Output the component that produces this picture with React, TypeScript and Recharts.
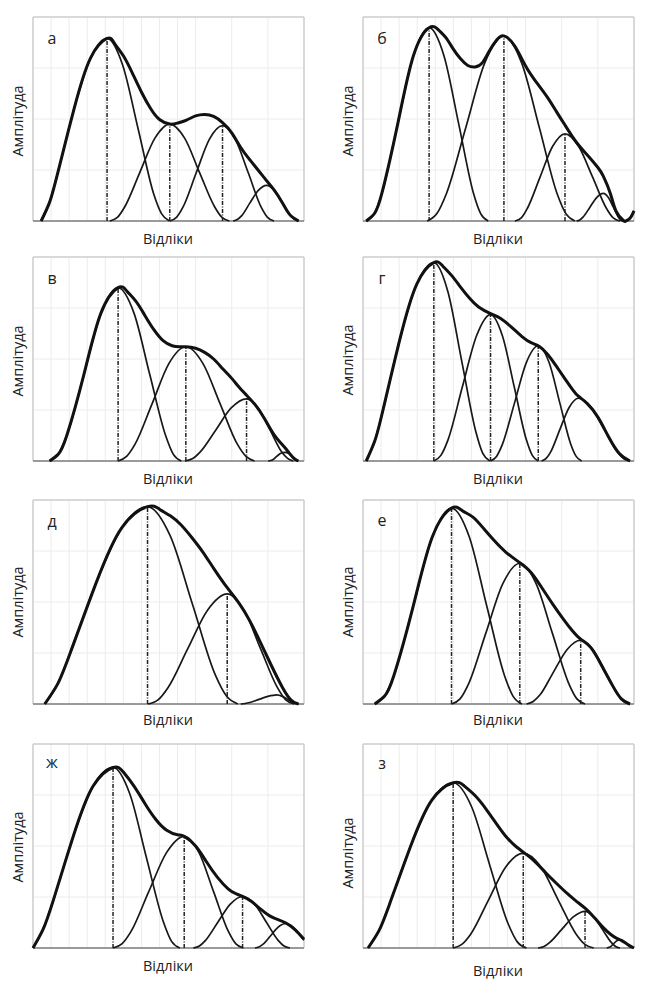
import { LineChart, Line, XAxis, YAxis, CartesianGrid, ReferenceLine } from "recharts";

type P = [number, number];

const xTicks = [0, 1, 2, 3, 4, 5, 6, 7, 8, 9, 10, 11, 12, 13, 14, 15];
const yTicks = [0, 1, 2, 3, 4];
const xLabel = "Відліки";
const yLabel = "Амплітуда";

// а
const aC1: P[] = [[0.45, 0], [0.91, 0.36], [1.36, 0.93], [2.28, 2.21], [3.19, 3.2], [4.1, 3.58], [4.96, 3.06], [5.83, 1.79], [6.69, 0.52], [7.12, 0.14], [7.55, 0]];
const aC2: P[] = [[4.25, 0], [4.67, 0.07], [5.08, 0.28], [5.91, 0.95], [6.74, 1.62], [7.57, 1.9], [8.4, 1.62], [9.22, 0.95], [10.05, 0.28], [10.46, 0.07], [10.87, 0]];
const aC3: P[] = [[7.57, 0], [7.94, 0.07], [8.3, 0.27], [9.03, 0.94], [9.76, 1.6], [10.49, 1.87], [11.2, 1.6], [11.92, 0.94], [12.63, 0.27], [12.98, 0.07], [13.34, 0]];
const aC4: P[] = [[11.08, 0], [11.31, 0.03], [11.54, 0.1], [12.0, 0.35], [12.47, 0.6], [12.93, 0.7], [13.37, 0.6], [13.82, 0.35], [14.26, 0.1], [14.48, 0.03], [14.7, 0]];
const aEnv: P[] = [[0.45, 0], [0.91, 0.36], [1.36, 0.93], [2.28, 2.21], [3.19, 3.2], [4.1, 3.58], [4.5, 3.49], [5.0, 3.24], [5.5, 2.9], [6.0, 2.53], [6.5, 2.21], [7.0, 1.99], [7.57, 1.9], [8.0, 1.92], [8.5, 1.98], [9.0, 2.06], [9.5, 2.09], [10.0, 2.05], [10.49, 1.93], [11.0, 1.73], [11.5, 1.44], [12.0, 1.2], [12.5, 0.98], [12.93, 0.79], [13.34, 0.61], [13.8, 0.36], [14.2, 0.13], [14.7, 0]];
const aPeaks: P[] = [[4.1, 3.58], [7.57, 1.9], [10.49, 1.87]];

// б
const bC1: P[] = [[0.18, 0], [0.62, 0.14], [1.05, 0.55], [1.92, 1.9], [2.79, 3.24], [3.66, 3.79], [4.48, 3.24], [5.3, 1.9], [6.11, 0.55], [6.52, 0.14], [6.93, 0]];
const bC2: P[] = [[3.55, 0], [4.08, 0.14], [4.61, 0.53], [5.68, 1.82], [6.74, 3.1], [7.8, 3.63], [8.78, 3.1], [9.77, 1.82], [10.75, 0.53], [11.24, 0.14], [11.73, 0]];
const bC3: P[] = [[8.41, 0], [8.76, 0.06], [9.1, 0.25], [9.8, 0.86], [10.49, 1.46], [11.18, 1.71], [11.94, 1.46], [12.71, 0.86], [13.47, 0.25], [13.85, 0.06], [14.23, 0]];
const bC4: P[] = [[11.82, 0], [12.0, 0.02], [12.19, 0.08], [12.56, 0.27], [12.93, 0.46], [13.3, 0.54], [13.58, 0.46], [13.86, 0.27], [14.13, 0.08], [14.27, 0.02], [14.41, 0]];
const bC5: P[] = [[14.5, 0], [14.65, 0.02], [14.8, 0.07], [15, 0.2]];
const bEnv: P[] = [[0.18, 0], [0.62, 0.14], [1.05, 0.55], [1.92, 1.9], [2.79, 3.24], [3.66, 3.79], [4.2, 3.74], [4.6, 3.59], [5.0, 3.37], [5.4, 3.18], [5.8, 3.05], [6.2, 3.02], [6.6, 3.1], [7.0, 3.34], [7.4, 3.55], [7.8, 3.63], [8.4, 3.43], [9.0, 3.04], [9.6, 2.72], [10.2, 2.43], [10.7, 2.15], [11.18, 1.88], [11.6, 1.65], [12.0, 1.46], [12.5, 1.26], [13.0, 1.05], [13.3, 0.88], [13.7, 0.53], [14.0, 0.2], [14.41, 0.01], [14.55, 0], [14.7, 0.03], [14.85, 0.09], [15, 0.2]];
const bPeaks: P[] = [[3.66, 3.79], [7.8, 3.63], [11.18, 1.71]];

// в
const vC1: P[] = [[0.92, 0], [1.39, 0.13], [1.87, 0.5], [2.82, 1.7], [3.76, 2.9], [4.71, 3.4], [5.59, 2.9], [6.46, 1.7], [7.34, 0.5], [7.77, 0.13], [8.21, 0]];
const vC2: P[] = [[4.71, 0], [5.18, 0.09], [5.65, 0.33], [6.59, 1.12], [7.52, 1.91], [8.46, 2.24], [9.41, 1.91], [10.36, 1.12], [11.31, 0.33], [11.79, 0.09], [12.26, 0]];
const vC3: P[] = [[8.41, 0], [8.84, 0.05], [9.26, 0.18], [10.12, 0.61], [10.97, 1.04], [11.82, 1.22], [12.47, 1.04], [13.12, 0.61], [13.76, 0.18], [14.09, 0.05], [14.41, 0]];
const vC4: P[] = [[13.02, 0], [13.14, 0.01], [13.25, 0.02], [13.49, 0.09], [13.72, 0.15], [13.95, 0.17], [14.14, 0.15], [14.32, 0.09], [14.51, 0.02], [14.6, 0.01], [14.69, 0]];
const vEnv: P[] = [[0.92, 0], [1.39, 0.13], [1.87, 0.5], [2.82, 1.7], [3.76, 2.9], [4.71, 3.4], [5.2, 3.33], [5.7, 3.13], [6.2, 2.85], [6.7, 2.57], [7.2, 2.36], [7.7, 2.26], [8.1, 2.24], [8.46, 2.24], [9.0, 2.21], [9.5, 2.13], [10.0, 2.0], [10.5, 1.81], [11.0, 1.62], [11.4, 1.45], [11.82, 1.29], [12.3, 1.1], [12.8, 0.84], [13.3, 0.54], [13.7, 0.36], [13.95, 0.26], [14.2, 0.15], [14.45, 0.05], [14.69, 0]];
const vPeaks: P[] = [[4.71, 3.4], [8.46, 2.24], [11.82, 1.22]];

// г
const gC1: P[] = [[0.18, 0], [0.65, 0.39], [1.12, 1.02], [2.05, 2.4], [2.99, 3.48], [3.92, 3.89], [4.7, 3.32], [5.47, 1.95], [6.25, 0.57], [6.63, 0.15], [7.02, 0]];
const gC2: P[] = [[3.92, 0], [4.31, 0.11], [4.71, 0.42], [5.49, 1.44], [6.28, 2.45], [7.06, 2.87], [7.72, 2.45], [8.38, 1.44], [9.04, 0.42], [9.37, 0.11], [9.7, 0]];
const gC3: P[] = [[7.06, 0], [7.39, 0.09], [7.72, 0.33], [8.38, 1.13], [9.04, 1.93], [9.7, 2.26], [10.3, 1.93], [10.9, 1.13], [11.5, 0.33], [11.8, 0.09], [12.1, 0]];
const gC4: P[] = [[9.88, 0], [10.14, 0.05], [10.39, 0.18], [10.9, 0.62], [11.41, 1.05], [11.92, 1.23], [12.64, 1.05], [13.35, 0.62], [14.07, 0.18], [14.42, 0.05], [14.78, 0]];
const gEnv: P[] = [[0.18, 0], [0.65, 0.39], [1.12, 1.02], [2.05, 2.4], [2.99, 3.48], [3.92, 3.89], [4.4, 3.83], [4.9, 3.64], [5.4, 3.41], [5.9, 3.19], [6.4, 3.02], [7.06, 2.89], [7.6, 2.8], [8.2, 2.63], [8.8, 2.44], [9.3, 2.32], [9.7, 2.26], [10.2, 2.1], [10.7, 1.86], [11.2, 1.6], [11.6, 1.4], [11.92, 1.27], [12.4, 1.13], [13.0, 0.86], [13.6, 0.47], [14.2, 0.14], [14.78, 0]];
const gPeaks: P[] = [[3.92, 3.89], [7.06, 2.87], [9.7, 2.26]];

// д
const dC1: P[] = [[0.65, 0], [1.36, 0.39], [2.07, 1.01], [3.5, 2.38], [4.92, 3.46], [6.34, 3.87], [7.59, 3.3], [8.84, 1.94], [10.09, 0.57], [10.72, 0.15], [11.34, 0]];
const dC2: P[] = [[6.37, 0], [6.92, 0.08], [7.47, 0.32], [8.56, 1.08], [9.66, 1.84], [10.75, 2.16], [11.68, 1.84], [12.6, 1.08], [13.53, 0.32], [13.99, 0.08], [14.45, 0]];
const dC3: P[] = [[11.5, 0], [11.75, 0.01], [12.0, 0.03], [12.5, 0.09], [13.0, 0.15], [13.5, 0.18], [13.8, 0.15], [14.1, 0.09], [14.4, 0.03], [14.55, 0.01], [14.7, 0]];
const dEnv: P[] = [[0.65, 0], [1.36, 0.39], [2.07, 1.01], [3.5, 2.38], [4.92, 3.46], [6.34, 3.87], [7.0, 3.82], [7.6, 3.69], [8.2, 3.51], [8.8, 3.26], [9.4, 2.98], [10.0, 2.66], [10.75, 2.28], [11.4, 1.98], [12.0, 1.63], [12.6, 1.2], [13.2, 0.75], [13.8, 0.33], [14.3, 0.07], [14.7, 0]];
const dPeaks: P[] = [[6.34, 3.87], [10.75, 2.16]];

// е
const eC1: P[] = [[0.65, 0], [1.18, 0.15], [1.71, 0.56], [2.78, 1.92], [3.84, 3.28], [4.9, 3.84], [5.88, 3.28], [6.85, 1.92], [7.83, 0.56], [8.31, 0.15], [8.8, 0]];
const eC2: P[] = [[4.9, 0], [5.37, 0.1], [5.85, 0.4], [6.79, 1.38], [7.74, 2.36], [8.68, 2.76], [9.58, 2.36], [10.49, 1.38], [11.39, 0.4], [11.84, 0.1], [12.29, 0]];
const eC3: P[] = [[9.05, 0], [9.42, 0.05], [9.8, 0.18], [10.55, 0.63], [11.3, 1.07], [12.05, 1.25], [12.73, 1.07], [13.42, 0.63], [14.1, 0.18], [14.44, 0.05], [14.78, 0]];
const eEnv: P[] = [[0.65, 0], [1.18, 0.15], [1.71, 0.56], [2.78, 1.92], [3.84, 3.28], [4.9, 3.84], [5.5, 3.79], [6.1, 3.66], [6.7, 3.43], [7.3, 3.19], [7.9, 2.98], [8.68, 2.77], [9.3, 2.58], [9.9, 2.28], [10.5, 1.96], [11.1, 1.66], [11.6, 1.43], [12.05, 1.27], [12.6, 1.11], [13.2, 0.76], [13.8, 0.37], [14.3, 0.1], [14.78, 0]];
const ePeaks: P[] = [[4.9, 3.84], [8.68, 2.76], [12.05, 1.25]];

// ж
const zhC1: P[] = [[0, 0], [0.55, 0.36], [1.11, 0.92], [2.22, 2.18], [3.32, 3.17], [4.43, 3.54], [5.36, 3.02], [6.28, 1.77], [7.21, 0.52], [7.67, 0.13], [8.13, 0]];
const zhC2: P[] = [[4.43, 0], [4.92, 0.08], [5.42, 0.32], [6.4, 1.1], [7.39, 1.87], [8.37, 2.19], [9.19, 1.87], [10.0, 1.1], [10.82, 0.32], [11.23, 0.08], [11.64, 0]];
const zhC3: P[] = [[8.87, 0], [9.21, 0.04], [9.55, 0.15], [10.24, 0.51], [10.92, 0.86], [11.6, 1.01], [12.26, 0.86], [12.91, 0.51], [13.57, 0.15], [13.89, 0.04], [14.22, 0]];
const zhC4: P[] = [[12.29, 0], [12.5, 0.02], [12.72, 0.07], [13.15, 0.24], [13.57, 0.41], [14.0, 0.48], [14.4, 0.41], [14.8, 0.24], [15.0, 0.15]];
const zhEnv: P[] = [[0, 0], [0.55, 0.36], [1.11, 0.92], [2.22, 2.18], [3.32, 3.17], [4.43, 3.54], [5.0, 3.45], [5.6, 3.17], [6.2, 2.83], [6.8, 2.52], [7.4, 2.31], [8.0, 2.22], [8.37, 2.19], [9.0, 2.0], [9.6, 1.69], [10.2, 1.39], [10.8, 1.16], [11.2, 1.07], [11.6, 1.01], [12.1, 0.91], [12.6, 0.76], [13.1, 0.63], [13.6, 0.55], [14.0, 0.49], [14.5, 0.36], [15.0, 0.17]];
const zhPeaks: P[] = [[4.43, 3.54], [8.37, 2.19], [11.6, 1.01]];

// з
const zC1: P[] = [[0.28, 0], [0.87, 0.33], [1.46, 0.85], [2.64, 2.0], [3.81, 2.9], [4.99, 3.24], [6.01, 2.77], [7.02, 1.62], [8.04, 0.47], [8.54, 0.12], [9.05, 0]];
const zC2: P[] = [[4.99, 0], [5.47, 0.07], [5.96, 0.27], [6.93, 0.93], [7.9, 1.59], [8.87, 1.86], [9.85, 1.59], [10.82, 0.93], [11.8, 0.27], [12.28, 0.07], [12.77, 0]];
const zC3: P[] = [[9.69, 0], [10.02, 0.03], [10.34, 0.11], [10.99, 0.36], [11.64, 0.61], [12.29, 0.72], [12.77, 0.61], [13.26, 0.36], [13.74, 0.11], [13.98, 0.03], [14.22, 0]];
const zC4: P[] = [[13.49, 0], [13.58, 0.01], [13.67, 0.02], [13.86, 0.08], [14.04, 0.14], [14.22, 0.16], [14.41, 0.14], [14.59, 0.08], [14.78, 0.02], [14.87, 0.01], [14.96, 0]];
const zEnv: P[] = [[0.28, 0], [0.87, 0.33], [1.46, 0.85], [2.64, 2.0], [3.81, 2.9], [4.99, 3.24], [5.6, 3.18], [6.2, 2.99], [6.8, 2.73], [7.4, 2.43], [8.0, 2.15], [8.5, 1.98], [8.87, 1.88], [9.5, 1.7], [10.1, 1.48], [10.7, 1.27], [11.3, 1.07], [11.8, 0.92], [12.29, 0.78], [12.8, 0.6], [13.3, 0.4], [13.7, 0.27], [14.0, 0.2], [14.3, 0.15], [14.65, 0.07], [15.0, 0]];
const zPeaks: P[] = [[4.99, 3.24], [8.87, 1.86], [12.29, 0.72]];

const rows = (pts: P[]) => pts.map(([x, y]) => ({ x, y }));

const FONT = '"Open Sans", "Liberation Sans", sans-serif';

interface PanelProps {
  letter: string;
  parts: P[][];
  env: P[];
  peaks: P[];
  left: number;
  top: number;
  xLabelDy: number;
  yLabelDy: number;
  letterDy: number;
}

function Panel({ letter, parts, env, peaks, left, top, xLabelDy, yLabelDy, letterDy }: PanelProps) {
  return (
    <>
      <div style={{ position: "absolute", left: left - 2, top: top - 2 }}>
        <LineChart width={275} height={208} margin={{ top: 2, right: 2, bottom: 2, left: 2 }}>
          <CartesianGrid stroke="#ececec" strokeWidth={1} />
          <XAxis type="number" dataKey="x" domain={[0, 15]} ticks={xTicks} hide />
          <YAxis type="number" dataKey="y" domain={[0, 4]} ticks={yTicks} hide />
          <ReferenceLine x={0} stroke="#cfcfcf" strokeWidth={1.5} />
          <ReferenceLine x={15} stroke="#cfcfcf" strokeWidth={1.5} />
          <ReferenceLine y={4} stroke="#cfcfcf" strokeWidth={1.5} />
          <ReferenceLine y={0} stroke="#9a9a9a" strokeWidth={2} />
          {parts.map((p, i) => (
            <Line
              key={"c" + i}
              data={rows(p)}
              dataKey="y"
              type="monotone"
              stroke="#181818"
              strokeWidth={1.7}
              dot={false}
              isAnimationActive={false}
            />
          ))}
          {peaks.map(([x, y], i) => (
            <ReferenceLine
              key={"p" + i}
              segment={[{ x, y: 0 }, { x, y }]}
              stroke="#222"
              strokeWidth={1.5}
              strokeDasharray="4 1.5 1 1.5"
            />
          ))}
          <Line
            data={rows(env)}
            dataKey="y"
            type="natural"
            stroke="#111"
            strokeWidth={3}
            dot={false}
            isAnimationActive={false}
          />
        </LineChart>
      </div>
      <div style={{ position: "absolute", left: left + 19, top: top + letterDy, transform: "translate(-50%, -50%)", fontSize: 16, color: "#222" }}>
        {letter}
      </div>
      <div style={{ position: "absolute", left: left + 135, top: top + 204 + xLabelDy, transform: "translate(-50%, -50%)", fontSize: 14.5, color: "#222", whiteSpace: "nowrap" }}>
        {xLabel}
      </div>
      <div style={{ position: "absolute", left: left - 16, top: top + yLabelDy, transform: "translate(-50%, -50%) rotate(-90deg)", fontSize: 14.5, color: "#222", whiteSpace: "nowrap" }}>
        {yLabel}
      </div>
    </>
  );
}

export default function App() {
  return (
    <div style={{ position: "absolute", left: 0, top: 0, width: 661, height: 993, background: "#fff", fontFamily: FONT, overflow: "hidden" }}>
      <Panel letter="а" parts={[aC1, aC2, aC3, aC4]} env={aEnv} peaks={aPeaks} left={33} top={17} xLabelDy={17} yLabelDy={104} letterDy={21} />
      <Panel letter="б" parts={[bC1, bC2, bC3, bC4, bC5]} env={bEnv} peaks={bPeaks} left={363} top={17} xLabelDy={17} yLabelDy={104} letterDy={21} />
      <Panel letter="в" parts={[vC1, vC2, vC3, vC4]} env={vEnv} peaks={vPeaks} left={33} top={257} xLabelDy={17} yLabelDy={104} letterDy={21} />
      <Panel letter="г" parts={[gC1, gC2, gC3, gC4]} env={gEnv} peaks={gPeaks} left={363} top={257} xLabelDy={17} yLabelDy={103} letterDy={21} />
      <Panel letter="д" parts={[dC1, dC2, dC3]} env={dEnv} peaks={dPeaks} left={33} top={500} xLabelDy={15} yLabelDy={102} letterDy={21} />
      <Panel letter="е" parts={[eC1, eC2, eC3]} env={eEnv} peaks={ePeaks} left={363} top={500} xLabelDy={15} yLabelDy={102} letterDy={20} />
      <Panel letter="ж" parts={[zhC1, zhC2, zhC3, zhC4]} env={zhEnv} peaks={zhPeaks} left={33} top={744} xLabelDy={17} yLabelDy={103} letterDy={18} />
      <Panel letter="з" parts={[zC1, zC2, zC3, zC4]} env={zEnv} peaks={zPeaks} left={363} top={744} xLabelDy={22} yLabelDy={109} letterDy={19} />
    </div>
  );
}
